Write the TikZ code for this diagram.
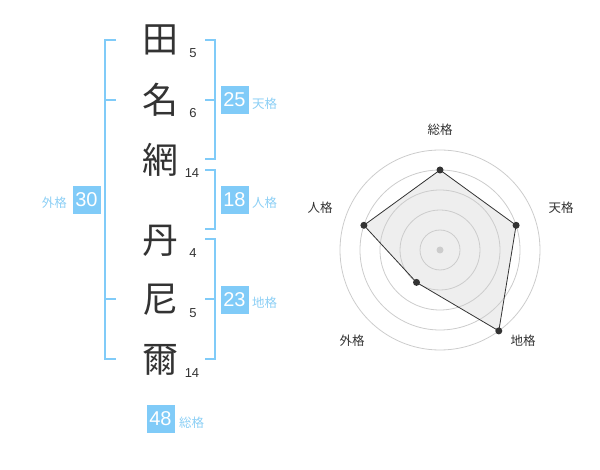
\documentclass[tikz,border=0pt]{standalone}
\usepackage{fontspec}
\setmainfont{Liberation Sans}
\newfontfamily\cjk{Noto Sans CJK JP}
\definecolor{nblue}{HTML}{80CBF8}
\definecolor{nlabel}{HTML}{8CCFF5}
\definecolor{ink}{HTML}{333333}
\definecolor{ring}{HTML}{CCCCCC}
\definecolor{area}{HTML}{EEEEEE}
\tikzset{
  kanji/.style={font=\cjk\fontsize{36}{36}\selectfont, text=ink, inner sep=0pt},
  strokes/.style={font=\fontsize{13}{13}\selectfont, text=ink, inner sep=0pt},
  scorebox/.style={fill=nblue, text=white, font=\fontsize{20}{20}\selectfont, minimum width=28pt, minimum height=28pt, inner sep=0pt},
  kaku/.style={font=\cjk\fontsize{12.5}{12.5}\selectfont, text=nlabel, inner sep=0pt},
  bracket/.style={draw=nblue, line width=2pt},
  ringline/.style={draw=ring, line width=0.8pt},
  axislabel/.style={font=\cjk\fontsize{12.5}{12.5}\selectfont, text=ink, inner sep=0pt},
  vertex/.style={circle, fill=ink, minimum size=7pt, inner sep=0pt},
}
\begin{document}
\begin{tikzpicture}[x=1pt,y=-1pt]
\useasboundingbox (0,0) rectangle (600,470);
% characters
\node[kanji] (c1) at (160,40) {田};
\node[kanji] (c2) at (160,100) {名};
\node[kanji] (c3) at (160,160) {網};
\node[kanji] (c4) at (160,241) {丹};
\node[kanji] (c5) at (160,300) {尼};
\node[kanji] (c6) at (160,360) {爾};
\node[strokes] (n1) at (193,53) {5};
\node[strokes] (n2) at (193,113) {6};
\node[strokes] (n3) at (192,173) {14};
\node[strokes] (n4) at (193,253) {4};
\node[strokes] (n5) at (193,313) {5};
\node[strokes] (n6) at (192,373) {14};
% brackets
\draw[bracket] (116,40) -- (105,40) -- (105,359.5) -- (116,359.5);
\draw[bracket] (105,100) -- (116,100);
\draw[bracket] (105,299.5) -- (116,299.5);
\draw[bracket] (205,40) -- (214.5,40) -- (214.5,159.5) -- (205,159.5);
\draw[bracket] (205,100) -- (214.5,100);
\draw[bracket] (205,170) -- (214.5,170) -- (214.5,229.5) -- (205,229.5);
\draw[bracket] (205,239.5) -- (214.5,239.5) -- (214.5,359.5) -- (205,359.5);
\draw[bracket] (205,299.5) -- (214.5,299.5);
% score boxes
\node[scorebox] (b25) at (234.5,100) {25};
\node[kaku, anchor=west] (l25) at (252,104) {天格};
\node[scorebox] (b18) at (234.5,200) {18};
\node[kaku, anchor=west] (l18) at (252,203) {人格};
\node[scorebox] (b23) at (234.5,300) {23};
\node[kaku, anchor=west] (l23) at (252,303) {地格};
\node[scorebox] (b30) at (86.5,200) {30};
\node[kaku, anchor=east] (l30) at (67,203) {外格};
\node[scorebox] (b48) at (160.5,419) {48};
\node[kaku, anchor=west] (l48) at (179,423) {総格};
% radar
\coordinate (ctr) at (440,250);
\coordinate (pS) at (440,170);
\coordinate (pT) at (516.1,225.3);
\coordinate (pC) at (498.8,330.9);
\coordinate (pG) at (416.5,282.4);
\coordinate (pJ) at (363.9,225.3);
\fill[area] (pS) -- (pT) -- (pC) -- (pG) -- (pJ) -- cycle;
\foreach \r in {20,40,60,80,100} \draw[ringline] (ctr) circle (\r);
\draw[ink, line width=0.8pt] (pS) -- (pT) -- (pC) -- (pG) -- (pJ) -- cycle;
\node[vertex] (vS) at (pS) {};
\node[vertex] (vT) at (pT) {};
\node[vertex] (vC) at (pC) {};
\node[vertex] (vG) at (pG) {};
\node[vertex] (vJ) at (pJ) {};
\node[circle, fill=ring, minimum size=7pt, inner sep=0pt] (cdot) at (ctr) {};
\node[axislabel] (aS) at (440,130) {総格};
\node[axislabel] (aT) at (561,208) {天格};
\node[axislabel] (aJ) at (320,208) {人格};
\node[axislabel] (aG) at (352,341) {外格};
\node[axislabel] (aC) at (523,341) {地格};
\end{tikzpicture}
\end{document}
